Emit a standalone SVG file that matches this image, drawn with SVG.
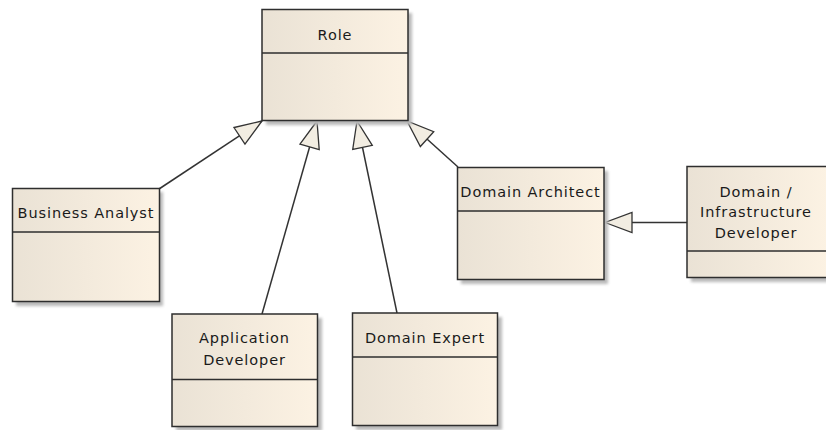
<svg xmlns="http://www.w3.org/2000/svg" width="826" height="430" viewBox="0 0 826 430">
<style>
.box{fill:url(#g);stroke:#2e2e2e;stroke-width:1.5}
.div{stroke:#2e2e2e;stroke-width:1.5}
.sh{fill:#b9b9b9;filter:url(#blur)}
.t{font-family:"DejaVu Sans",Verdana,sans-serif;font-size:14.5px;letter-spacing:0.9px;fill:#1a1a1a;text-anchor:middle}
.c{stroke:#333;stroke-width:1.5;fill:none;marker-end:url(#tri)}
</style>
<defs>
<linearGradient id="g" x1="0" y1="0" x2="1" y2="0">
<stop offset="0" stop-color="#eae2d5"/>
<stop offset="1" stop-color="#fcf2e3"/>
</linearGradient>
<filter id="blur" x="-10%" y="-10%" width="120%" height="120%"><feGaussianBlur stdDeviation="1.5"/></filter>
<marker id="tri" markerUnits="userSpaceOnUse" viewBox="-30 -12 32 24" markerWidth="32" markerHeight="24" refX="0" refY="0" orient="auto">
<path d="M0,0 L-27,-10 L-27,10 Z" fill="#f2ede2" stroke="#333" stroke-width="1.3"/>
</marker>
</defs>
<rect width="826" height="430" fill="#fff"/>
<g id="connectors">
<line class="c" x1="159" y1="189" x2="262" y2="121"/>
<line class="c" x1="262" y1="314" x2="317" y2="121"/>
<line class="c" x1="397" y1="313" x2="357" y2="121"/>
<line class="c" x1="458" y1="167" x2="407" y2="121"/>
<line class="c" x1="687" y1="222.5" x2="605" y2="222.5"/>
</g>
<g id="role">
<rect class="sh" x="266" y="13" width="146" height="112"/>
<rect class="box" x="262" y="9.5" width="146" height="111"/>
<line class="div" x1="262" y1="53" x2="408" y2="53"/>
<text class="t" x="335" y="40">Role</text>
</g>
<g id="business-analyst">
<rect class="sh" x="16" y="192" width="147" height="114"/>
<rect class="box" x="12.5" y="188.5" width="147" height="113"/>
<line class="div" x1="12.5" y1="232" x2="159.5" y2="232"/>
<text class="t" x="86" y="218">Business Analyst</text>
</g>
<g id="application-developer">
<rect class="sh" x="176" y="318" width="146" height="113"/>
<rect class="box" x="172" y="314" width="145.5" height="112.5"/>
<line class="div" x1="172" y1="379.5" x2="317.5" y2="379.5"/>
<text class="t" x="244.5" y="343">Application</text>
<text class="t" x="244.5" y="365">Developer</text>
</g>
<g id="domain-expert">
<rect class="sh" x="356" y="317" width="146" height="113"/>
<rect class="box" x="352.5" y="313" width="145" height="112.5"/>
<line class="div" x1="352.5" y1="357" x2="497.5" y2="357"/>
<text class="t" x="425" y="342.5">Domain Expert</text>
</g>
<g id="domain-architect">
<rect class="sh" x="461" y="171" width="147" height="113"/>
<rect class="box" x="457.5" y="167.5" width="146.5" height="112"/>
<line class="div" x1="457.5" y1="211" x2="604" y2="211"/>
<text class="t" x="530.5" y="197">Domain Architect</text>
</g>
<g id="domain-infrastructure-developer">
<rect class="sh" x="691" y="170" width="140" height="112"/>
<rect class="box" x="687" y="166.5" width="140" height="111"/>
<line class="div" x1="687" y1="251" x2="827" y2="251"/>
<text class="t" x="756" y="196.5">Domain /</text>
<text class="t" x="756" y="217">Infrastructure</text>
<text class="t" x="756" y="237.5">Developer</text>
</g>
</svg>
